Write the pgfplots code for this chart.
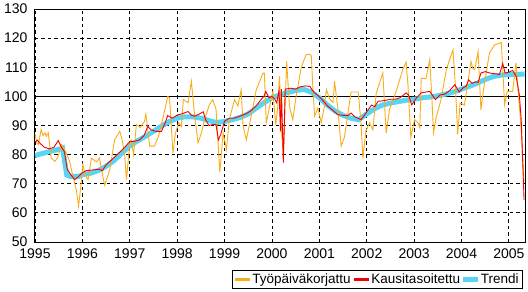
\documentclass[border=0pt]{standalone}
\usepackage{pgfplots}
\pgfplotsset{compat=1.18}
\usepackage{fontspec}
\setmainfont{Liberation Sans}
\definecolor{orgC}{RGB}{250,172,25}
\definecolor{redC}{RGB}{245,0,0}
\definecolor{trendC}{RGB}{88,212,245}
\begin{document}
\begin{tikzpicture}
\path[use as bounding box] (-35pt,-50pt) rectangle (493pt,242pt);
\begin{axis}[
  scale only axis, width=490pt, height=233pt,
  xmin=1995, xmax=2005.34, ymin=50, ymax=130,
  xtick={1995,1996,...,2005}, ytick={50,60,...,130},
  /pgf/number format/1000 sep={},
  /pgf/number format/assume math mode=true,
  tick label style={font=\fontsize{14}{16}\selectfont},
  xticklabel style={yshift=-3pt},
  yticklabel style={xshift=-4pt},
  major tick length=0pt,
  grid=major,
  major grid style={black, line width=0.8pt, dash pattern=on 3.5pt off 3pt},
  axis line style={black, line width=1pt},
  legend columns=3,
  legend style={at={(1,0)}, anchor=north east, xshift=-2pt, yshift=-28pt,
    draw=black, line width=0.8pt, font=\fontsize{13.5}{15}\selectfont,
    inner xsep=2pt, inner ysep=1.5pt, column sep=1pt},
]
\addplot[black, line width=1pt, forget plot] coordinates {(1995,100) (2005.34,100)};
% Trend
\addplot[trendC, line width=5pt, forget plot] coordinates {
(1995.00,79.7) (1995.25,80.8) (1995.50,81.8) (1995.58,82.3) (1995.67,73) (1995.75,72.5)
(1995.92,72.5) (1996.00,73.1) (1996.17,73.6) (1996.33,74.5) (1996.50,76) (1996.67,78)
(1996.83,80.5) (1997.00,83) (1997.17,84.8) (1997.33,86.3) (1997.50,88) (1997.67,89.8)
(1997.83,91.3) (1998.00,92.5) (1998.17,93) (1998.33,93) (1998.50,92.5) (1998.67,91.7)
(1998.83,91) (1999.00,91.4) (1999.17,92) (1999.33,92.8) (1999.50,94) (1999.67,96)
(1999.83,97.8) (2000.00,99.5) (2000.17,100.5) (2000.33,101.3) (2000.50,102) (2000.67,102.4)
(2000.83,101.5) (2001.00,99.5) (2001.17,97) (2001.33,95) (2001.50,93.5) (2001.67,92.5)
(2001.83,92) (2002.00,94) (2002.17,95.8) (2002.33,97) (2002.50,97.7) (2002.67,98.2)
(2002.83,98.7) (2003.00,99) (2003.17,99.5) (2003.33,99.8) (2003.50,100.2) (2003.67,100.8)
(2003.83,101.5) (2004.00,102.5) (2004.17,103.5) (2004.33,104.5) (2004.50,105.8) (2004.67,106.8)
(2004.83,107.3) (2005.00,107.5) (2005.17,107.5) (2005.33,107.7)};
% Working-day adjusted
\addplot[orgC, line width=0.9pt, forget plot] coordinates {
(1995.00,87) (1995.04,84) (1995.07,83.5) (1995.10,86) (1995.13,88.6) (1995.17,86.5)
(1995.21,87.5) (1995.24,86.3) (1995.28,87.5) (1995.34,78.8) (1995.42,77.7) (1995.48,79)
(1995.56,83.4) (1995.66,80.6) (1995.73,77.7) (1995.80,72.6) (1995.87,68) (1995.92,62.3)
(1995.96,68) (1996.01,76.6) (1996.06,73) (1996.12,71.4) (1996.19,78.8) (1996.25,78)
(1996.30,77.5) (1996.36,78.8) (1996.43,72.6) (1996.47,69.5) (1996.58,75) (1996.68,85.1)
(1996.79,88) (1996.84,85) (1996.89,80.3) (1996.93,71.4) (1997.00,84) (1997.03,85)
(1997.08,80) (1997.14,90.3) (1997.22,89.3) (1997.31,91.4) (1997.34,94) (1997.42,82.9)
(1997.52,82.9) (1997.60,86) (1997.66,89.7) (1997.77,97.6) (1997.80,100) (1997.84,99.5)
(1997.91,80.6) (1997.96,87) (1998.03,91) (1998.09,89.7) (1998.13,98.9) (1998.23,97.8)
(1998.30,105.2) (1998.37,93.2) (1998.44,84) (1998.51,87.4) (1998.58,92) (1998.68,97.2)
(1998.75,98.9) (1998.82,95.6) (1998.86,85) (1998.90,74) (1998.97,87.4) (1999.04,81.7)
(1999.10,92) (1999.21,98.9) (1999.28,96.7) (1999.35,102.3) (1999.39,90) (1999.46,85.1)
(1999.56,93) (1999.67,102.3) (1999.81,108) (1999.84,108) (1999.88,90.9) (1999.95,96.5)
(2000.02,101.7) (2000.08,90.3) (2000.12,96) (2000.16,106.9) (2000.20,88.6) (2000.24,79.5)
(2000.31,112) (2000.37,96.6) (2000.44,92) (2000.51,100) (2000.62,110) (2000.72,114.3)
(2000.80,114.5) (2000.83,114) (2000.86,104) (2000.90,93.2) (2000.97,96) (2001.04,91)
(2001.10,96) (2001.15,102.3) (2001.22,99) (2001.29,98) (2001.32,105.2) (2001.39,96)
(2001.46,82.9) (2001.53,86) (2001.67,101.5) (2001.82,101.5) (2001.88,90.9) (2001.92,78.8)
(2001.98,88) (2002.06,90.9) (2002.13,88.5) (2002.20,101) (2002.27,104.6) (2002.34,108)
(2002.41,87.4) (2002.48,95.4) (2002.62,101.7) (2002.76,109.2) (2002.83,111.8) (2002.87,104)
(2002.93,86) (2003.01,92) (2003.08,91) (2003.12,89.2) (2003.15,106.3) (2003.25,106)
(2003.33,112.6) (2003.37,101) (2003.41,87.5) (2003.47,93) (2003.57,99) (2003.68,109.2)
(2003.82,116) (2003.87,104) (2003.92,87) (2003.97,97.7) (2004.06,97) (2004.12,103)
(2004.20,112) (2004.24,109.5) (2004.28,109.2) (2004.35,115.5) (2004.41,95.4) (2004.47,103)
(2004.59,114.9) (2004.70,117.7) (2004.84,118.5) (2004.91,97.2) (2004.96,101.7) (2005.08,101.7)
(2005.15,111.5) (2005.21,99) (2005.26,88.6) (2005.32,70.3)};
% Seasonally adjusted
\addplot[redC, line width=0.9pt, forget plot] coordinates {
(1995.00,84.3) (1995.05,85) (1995.10,84) (1995.20,82.5) (1995.30,82) (1995.40,82.5)
(1995.49,84.8) (1995.56,82.5) (1995.62,81) (1995.68,75) (1995.76,73) (1995.84,71.4)
(1995.92,72.5) (1996.00,73.8) (1996.08,74.5) (1996.25,74.8) (1996.35,75) (1996.42,74.5)
(1996.50,76.5) (1996.67,79) (1996.83,81.5) (1996.92,83) (1997.00,84.5) (1997.08,84.5)
(1997.20,85) (1997.30,86.5) (1997.38,89.7) (1997.45,88.5) (1997.55,88) (1997.67,88)
(1997.75,91) (1997.80,93.4) (1997.90,92.5) (1998.00,93.6) (1998.10,94) (1998.23,94.8)
(1998.30,93.5) (1998.37,93.2) (1998.45,93.8) (1998.55,94.7) (1998.60,92) (1998.67,90)
(1998.75,90.3) (1998.82,90.3) (1998.87,85) (1998.92,87) (1999.00,91.5) (1999.10,92.5)
(1999.20,92.5) (1999.32,93.2) (1999.45,94) (1999.55,95) (1999.66,96.6) (1999.75,98.5)
(1999.83,100) (1999.87,101.7) (1999.94,99.5) (2000.00,100) (2000.06,99) (2000.10,97.8)
(2000.15,102) (2000.18,88) (2000.20,102.5) (2000.24,77.3) (2000.28,102.5) (2000.40,102.8)
(2000.50,102.5) (2000.60,103.3) (2000.70,103.6) (2000.80,103.4) (2000.88,101.5) (2000.97,100.3)
(2001.08,98.5) (2001.18,96.6) (2001.30,95) (2001.39,93.7) (2001.50,93.5) (2001.60,93.4)
(2001.67,94.3) (2001.75,93) (2001.88,92) (2001.95,93.5) (2002.03,95.4) (2002.10,97)
(2002.17,96.5) (2002.24,98.3) (2002.35,98.5) (2002.50,99) (2002.60,99) (2002.70,99.5)
(2002.83,101.2) (2002.88,100.5) (2002.95,97.1) (2003.05,99.5) (2003.15,101.2) (2003.25,101.5)
(2003.33,101.7) (2003.45,98.9) (2003.55,100.5) (2003.65,100.8) (2003.75,102) (2003.86,104)
(2003.95,101.5) (2004.03,102.9) (2004.10,103.5) (2004.15,105.7) (2004.22,104.5) (2004.30,105)
(2004.35,104.8) (2004.41,108) (2004.50,108.5) (2004.60,108) (2004.70,107.8) (2004.80,107.5)
(2004.87,111.3) (2004.92,108) (2005.00,108.3) (2005.08,108.9) (2005.15,107) (2005.22,100.6)
(2005.26,92) (2005.32,64.5)};
\addlegendimage{legend image code/.code={\fill[orgC] (0pt,-0.8pt) rectangle (14pt,0.8pt);}}
\addlegendentry{Työpäiväkorjattu}
\addlegendimage{legend image code/.code={\fill[redC] (0pt,-0.8pt) rectangle (14pt,0.8pt);}}
\addlegendentry{Kausitasoitettu}
\addlegendimage{legend image code/.code={\fill[trendC] (0pt,-2pt) rectangle (14pt,2pt);}}
\addlegendentry{Trendi}
\end{axis}
\end{tikzpicture}
\end{document}
